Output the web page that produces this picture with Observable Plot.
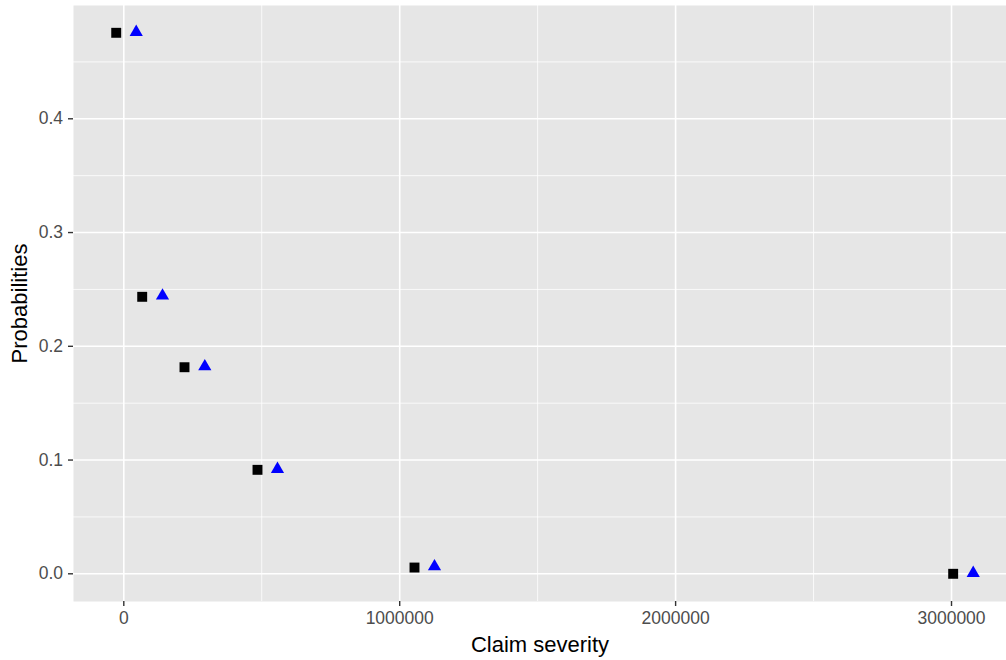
<!DOCTYPE html>
<html>
<head>
<meta charset="utf-8">
<script src="https://cdn.jsdelivr.net/npm/d3@7"></script>
<script src="https://cdn.jsdelivr.net/npm/@observablehq/plot@0.6"></script>
<style>
  html, body { margin: 0; padding: 0; background: #ffffff; }
  #chart svg { display: block; }
</style>
</head>
<body>
<div id="chart"></div>
<script>
// Series: black squares
const severitySquare = [-27500, 66700, 220000, 484600, 1053600, 3006000];
const probSquare     = [0.4756, 0.2435, 0.1816, 0.0914, 0.0055, 0.0000];
// Series: blue triangles
const severityTriangle = [45000, 140300, 293600, 557000, 1126100, 3078700];
const probTriangle     = [0.4761, 0.2444, 0.1822, 0.0920, 0.0064, 0.0006];

const xTicks = [0, 1000000, 2000000, 3000000];
const xMinor = [500000, 1500000, 2500000];
const yTicks = [0, 0.1, 0.2, 0.3, 0.4];
const yMinor = [0.05, 0.15, 0.25, 0.35, 0.45];

const xTitle = "Claim severity";
const yTitle = "Probabilities";

const squares = severitySquare.map((x, i) => ({x, y: probSquare[i]}));
const triangles = severityTriangle.map((x, i) => ({x, y: probTriangle[i]}));

const chart = Plot.plot({
  width: 1006,
  height: 660,
  marginLeft: 73,
  marginRight: 0,
  marginTop: 5,
  marginBottom: 59,
  style: {fontFamily: "Liberation Sans, Arial, sans-serif", background: "#ffffff"},
  x: {domain: [-182300, 3199300], label: null},
  y: {domain: [-0.02435, 0.4996], label: null},
  marks: [
    Plot.frame({fill: "#e6e6e6", stroke: null}),
    Plot.ruleX(xMinor, {stroke: "#ffffff", strokeWidth: 0.8}),
    Plot.ruleY(yMinor, {stroke: "#ffffff", strokeWidth: 0.8}),
    Plot.ruleX(xTicks, {stroke: "#ffffff", strokeWidth: 1.6}),
    Plot.ruleY(yTicks, {stroke: "#ffffff", strokeWidth: 1.6}),
    Plot.axisX(xTicks, {
      tickSize: 5, tickPadding: 5, stroke: "#333333", strokeWidth: 1.4,
      fill: "#4d4d4d", fontSize: 17.5, tickFormat: d => String(d),
      label: null
    }),
    Plot.axisY(yTicks, {
      tickSize: 5, tickPadding: 5.5, stroke: "#333333", strokeWidth: 1.4,
      fill: "#4d4d4d", fontSize: 17.5, tickFormat: d3.format(".1f"),
      label: null
    }),
    Plot.text([xTitle], {
      frameAnchor: "bottom", dy: 50, lineAnchor: "bottom", textAnchor: "middle",
      fontSize: 22, fill: "#000000"
    }),
    Plot.text([yTitle], {
      frameAnchor: "left", dx: -54, rotate: -90, lineAnchor: "middle", textAnchor: "middle",
      fontSize: 22, fill: "#000000"
    }),
    Plot.dot(squares, {x: "x", y: "y", symbol: "square", r: 5.6, fill: "#000000", stroke: null}),
    Plot.dot(triangles, {x: "x", y: "y", symbol: "triangle", r: 4.9, fill: "#0000ff", stroke: null})
  ]
});

document.getElementById("chart").appendChild(chart);
</script>
</body>
</html>
